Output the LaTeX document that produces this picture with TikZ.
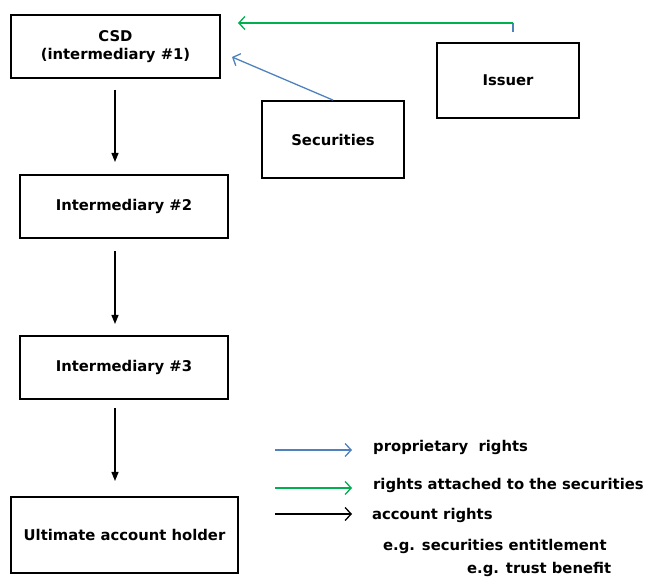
\documentclass[tikz,border=0pt]{standalone}
\usepackage{fontspec}
\setmainfont{DejaVu Sans}
\usepackage{tikz}
\usetikzlibrary{arrows.meta}

\definecolor{propblue}{RGB}{79,129,189}
\definecolor{rightgreen}{RGB}{0,176,80}

\begin{document}
\begin{tikzpicture}[x=1pt,y=-1pt,font=\fontsize{14.8}{17.5}\selectfont\bfseries,
  box/.style={line width=1.8pt,rectangle,draw,align=center,inner sep=0pt},
  down/.style={line width=1.2pt,->,>={Triangle[length=9pt,width=7pt]}},
  open/.style={line width=1.3pt,->,>={Straight Barb[length=6pt,width=13pt]}}]

\useasboundingbox (0,0) rectangle (646,577);

% csd node
\node[box,minimum width=209pt,minimum height=63pt] (csd) at (115.5,46.5) {CSD\\(intermediary \#1)};

% issuer node
\node[box,minimum width=142pt,minimum height=75pt] (issuer) at (508,80.5) {Issuer};

% securities node
\node[box,minimum width=142pt,minimum height=77pt] (securities) at (333,139.5) {Securities};

% intermediary nodes
\node[box,minimum width=208pt,minimum height=63pt] (inter2) at (124,206.5) {Intermediary \#2};
\node[box,minimum width=208pt,minimum height=63pt] (inter3) at (124,367.5) {Intermediary \#3};

% holder node
\node[box,minimum width=227pt,minimum height=76pt] (holder) at (124.5,535) {Ultimate account holder};

% account chain
\draw[down] (115,90) -- (115,162);
\draw[down] (115,251) -- (115,324);
\draw[down] (115,408) -- (115,481);

% rights from issuer
\coordinate (issuerup) at (513,32);
\coordinate (bend) at (513,23);
\coordinate (csdright) at (238,23);
\draw[propblue,line width=1.3pt] (issuerup) -- (bend);
\draw[rightgreen,open] (bend) -- (csdright);

% securities to csd
\coordinate (csdcorner) at (232,57);
\draw[propblue,open] (securities.north) -- (csdcorner);

% legend
\coordinate (lb1) at (275,450);
\coordinate (lb2) at (352,450);
\coordinate (lg1) at (275,488);
\coordinate (lg2) at (352,488);
\coordinate (lk1) at (275,514);
\coordinate (lk2) at (352,514);
\draw[propblue,open] (lb1) -- (lb2);
\draw[rightgreen,open] (lg1) -- (lg2);
\draw[open] (lk1) -- (lk2);

\node[anchor=west,inner sep=0pt] (lprop) at (373,447) {proprietary\ \ rights};
\node[anchor=west,inner sep=0pt] (lattach) at (373,485) {rights attached to the securities};
\node[anchor=west,inner sep=0pt] (lacc) at (372,515) {account rights};
\node[anchor=west,inner sep=0pt] (leg1) at (383,546) {e.g. securities entitlement};
\node[anchor=west,inner sep=0pt] (leg2) at (467,569) {e.g. trust benefit};

\end{tikzpicture}
\end{document}
